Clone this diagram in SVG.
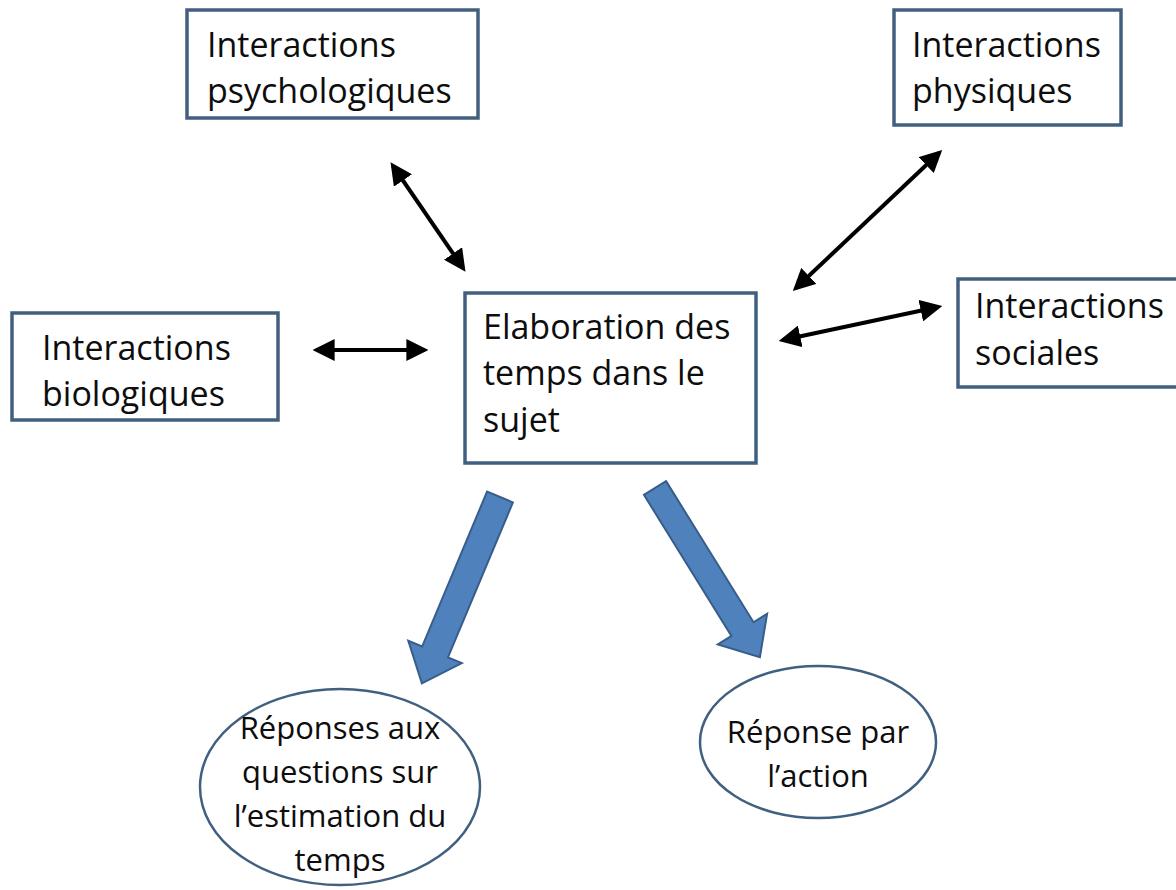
<svg xmlns="http://www.w3.org/2000/svg" width="1176" height="890" viewBox="0 0 1176 890">
<defs>
<style>
.box{fill:#ffffff;stroke:#41607f;stroke-width:3.5}
.ell{fill:#ffffff;stroke:#41607f;stroke-width:2.5}
.t{font-family:"Open Sans","Noto Sans","Liberation Sans",sans-serif;font-size:34px;fill:#0d0d0d}
.te{font-family:"Open Sans","Noto Sans","Liberation Sans",sans-serif;font-size:31px;fill:#0d0d0d;text-anchor:middle}
.link{stroke:#000000;stroke-width:4;fill:none;marker-start:url(#ah);marker-end:url(#ah)}
.big{fill:#4f81bd;stroke:#385d8a;stroke-width:2}
</style>
<marker id="ah" viewBox="0 0 10 10" refX="8" refY="5" markerWidth="5.5" markerHeight="5.5" orient="auto-start-reverse" markerUnits="strokeWidth">
<path d="M0,0 L10,5 L0,10 z" fill="#000000"/>
</marker>
</defs>
<rect width="1176" height="890" fill="#ffffff"/>

<g id="connectors">
<line class="link" x1="393" y1="166" x2="463" y2="268"/>
<line class="link" x1="939" y1="153" x2="796" y2="288"/>
<line class="link" x1="317" y1="350" x2="424" y2="350"/>
<line class="link" x1="783" y1="340" x2="938" y2="307"/>
<polygon class="big" transform="translate(500,497) rotate(112.75)" points="0,-14 168,-14 168,-29 202,0 168,29 168,14 0,14"/>
<polygon class="big" transform="translate(655,488) rotate(58.2)" points="0,-13 166,-13 166,-29 199,0 166,29 166,13 0,13"/>
</g>

<g id="psychologiques">
<rect class="box" x="187" y="10" width="291" height="108"/>
<text class="t" x="207" y="57">Interactions</text>
<text class="t" x="207" y="103">psychologiques</text>
</g>

<g id="physiques">
<rect class="box" x="894" y="10" width="227" height="115"/>
<text class="t" x="912" y="57">Interactions</text>
<text class="t" x="912" y="103">physiques</text>
</g>

<g id="biologiques">
<rect class="box" x="12" y="313" width="266" height="107"/>
<text class="t" x="42" y="360">Interactions</text>
<text class="t" x="42" y="406">biologiques</text>
</g>

<g id="elaboration">
<rect class="box" x="465" y="293" width="291" height="170"/>
<text class="t" x="483" y="339">Elaboration des</text>
<text class="t" x="483" y="385">temps dans le</text>
<text class="t" x="483" y="432">sujet</text>
</g>

<g id="sociales">
<rect class="box" x="958" y="279" width="240" height="108"/>
<text class="t" x="975" y="318">Interactions</text>
<text class="t" x="975" y="365">sociales</text>
</g>

<g id="reponses-questions">
<ellipse class="ell" cx="340" cy="787" rx="140" ry="98"/>
<text class="te" x="340" y="739">Réponses aux</text>
<text class="te" x="340" y="783">questions sur</text>
<text class="te" x="340" y="827">l’estimation du</text>
<text class="te" x="340" y="871">temps</text>
</g>

<g id="reponse-action">
<ellipse class="ell" cx="818" cy="742" rx="118" ry="76"/>
<text class="te" x="818" y="743">Réponse par</text>
<text class="te" x="818" y="787">l’action</text>
</g>
</svg>
